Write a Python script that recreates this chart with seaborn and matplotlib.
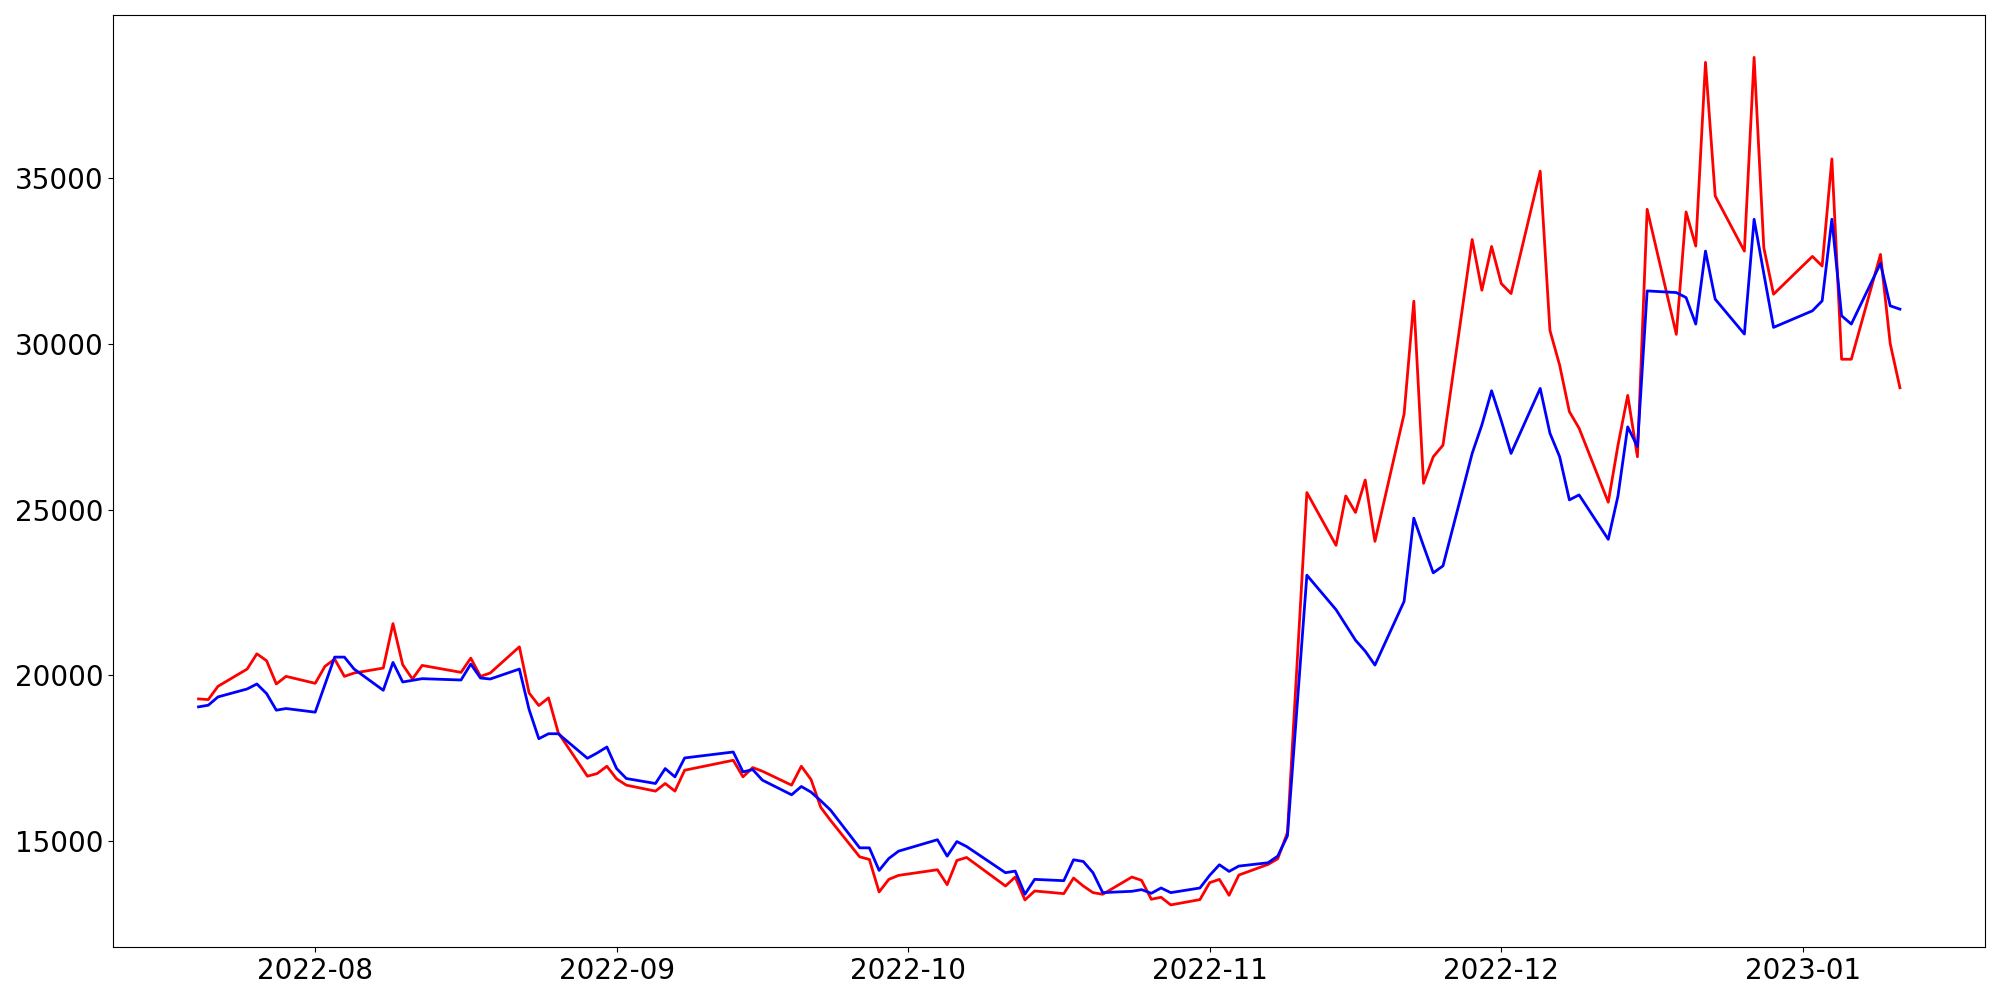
import pandas as pd
import seaborn as sns
import matplotlib.pyplot as plt

# trading days (KRX calendar: weekdays minus market holidays)
holidays = ['2022-08-15', '2022-09-09', '2022-09-12', '2022-10-03', '2022-10-10', '2022-12-30']
dates = pd.bdate_range('2022-07-20', '2023-01-11')
dates = dates[~dates.isin(pd.to_datetime(holidays))]

red_values = [
    # Jul
    19290, 19270, 19670, 20190, 20650, 20440, 19740, 19970,
    # Aug
    19760, 20270, 20490, 19970, 20070, 20220, 21560, 20320, 19890, 20300,
    20090, 20520, 19970, 20070, 20860, 19470, 19090, 19320, 18270, 16960,
    17040, 17260,
    # Sep
    16880, 16690, 16510, 16740, 16510, 17140, 17440, 16940, 17220, 17110,
    16690, 17260, 16860, 16020, 15630, 14530, 14450, 13470, 13850, 13970,
    # Oct
    14140, 13690, 14420, 14510, 13650, 13920, 13230, 13500, 13420, 13890,
    13650, 13450, 13400, 13920, 13820, 13250, 13310, 13080, 13240,
    # Nov
    13750, 13850, 13370, 13980, 14300, 14470, 15260, 20390, 25510, 23920,
    25410, 24910, 25890, 24040, 27880, 31280, 25790, 26590, 26940, 33140,
    31610, 32930,
    # Dec
    31810, 31510, 35200, 30400, 29350, 27950, 27450, 25220, 26940, 28440,
    26590, 34050, 30280, 33970, 32940, 38480, 34450, 32790, 38630, 32890,
    31490,
    # Jan
    32630, 32340, 35570, 29530, 29530, 32690, 30000, 28670,
]

blue_values = [
    # Jul
    19050, 19100, 19350, 19590, 19740, 19450, 18950, 19000,
    # Aug
    18890, 19720, 20550, 20550, 20190, 19550, 20390, 19800, 19850, 19900,
    19860, 20340, 19920, 19890, 20190, 18970, 18090, 18240, 18240, 17500,
    17660, 17840,
    # Sep
    17190, 16890, 16740, 17190, 16940, 17510, 17690, 17090, 17160, 16840,
    16400, 16650, 16480, 16220, 15940, 14800, 14800, 14120, 14480, 14700,
    # Oct
    15045, 14550, 14990, 14840, 14050, 14100, 13400, 13850, 13810, 14440,
    14390, 14050, 13450, 13490, 13540, 13430, 13590, 13450, 13590,
    # Nov
    13970, 14290, 14090, 14250, 14350, 14550, 15160, 19090, 23020, 21980,
    21520, 21060, 20730, 20310, 22230, 24740, 23900, 23090, 23300, 26690,
    27550, 28580,
    # Dec
    27670, 26690, 28650, 27300, 26590, 25290, 25440, 24100, 25410, 27490,
    26900, 31590, 31540, 31390, 30590, 32790, 31340, 30290, 33750, 32110,
    30490,
    # Jan
    30990, 31290, 33750, 30840, 30590, 32420, 31140, 31040,
]

df = pd.DataFrame({'date': dates, 'red': red_values, 'blue': blue_values})

fig, ax = plt.subplots(figsize=(20, 10))
sns.lineplot(x='date', y='red', data=df, color='red', linewidth=2, ax=ax)
sns.lineplot(x='date', y='blue', data=df, color='blue', linewidth=2, ax=ax)
ax.set_xlabel('')
ax.set_ylabel('')
ax.tick_params(labelsize=20)

plt.tight_layout()
fig.savefig('out.png', dpi=100)
